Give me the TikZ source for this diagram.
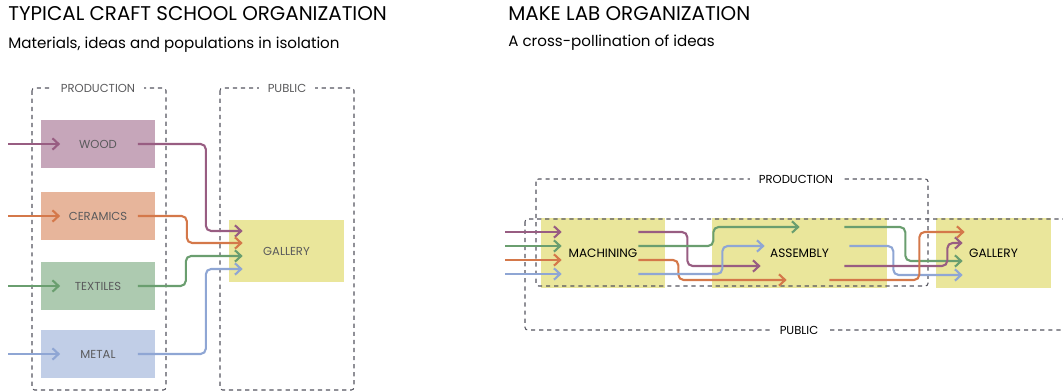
\documentclass[tikz,border=0pt]{standalone}
\usepackage{fontspec}
\setmainfont{Poppins}
\usetikzlibrary{calc,arrows.meta}
\definecolor{wood}{HTML}{985D82}
\definecolor{ceramics}{HTML}{D4784A}
\definecolor{textiles}{HTML}{6A9E6F}
\definecolor{metal}{HTML}{8FA6D4}
\definecolor{galfill}{HTML}{EAE69B}
\definecolor{zonegray}{HTML}{55555F}
\definecolor{labgray}{HTML}{5A5A5C}
\tikzset{zone/.style={draw=zonegray,line width=0.6pt,dash pattern=on 2.4pt off 2.2pt,rounded corners=1.5pt}}
\tikzset{zlabel/.style={fill=white,inner xsep=5pt,inner ysep=1pt,font=\fontsize{6.6}{7}\selectfont}}
\tikzset{matbox/.style={inner sep=0pt,minimum width=2.3cm,minimum height=0.96cm,text=labgray,font=\fontsize{6.6}{7}\selectfont}}
\tikzset{labbox/.style={fill=galfill,inner sep=0pt,minimum height=1.42cm,font=\fontsize{6.9}{7}\selectfont}}
\tikzset{flow/.style={line width=1.2pt,rounded corners=3pt,-{Straight Barb[length=3.5pt,width=6.5pt]}}}
\tikzset{ttl/.style={anchor=base west,inner sep=0pt,font=\fontsize{11.3}{13}\selectfont}}
\tikzset{subttl/.style={anchor=base west,inner sep=0pt,font=\fontsize{8.6}{10}\selectfont}}

\begin{document}
\begin{tikzpicture}[x=0.02cm,y=-0.02cm]
  \useasboundingbox (0,0) rectangle (1063,391);
  \clip (0,0) rectangle (1063,391);

  \node[ttl] (title1) at (8,21) {TYPICAL CRAFT SCHOOL ORGANIZATION};
  \node[subttl] (sub1) at (8,49) {Materials, ideas and populations in isolation};
  \node[ttl] (title2) at (508,21) {MAKE LAB ORGANIZATION};
  \node[subttl] (sub2) at (508,47) {A cross-pollination of ideas};

  % craft school
  \node[matbox,fill=galfill,minimum height=1.24cm] (gallery) at (286.5,251) {GALLERY};
  \foreach \n/\t/\y in {wood/WOOD/144,ceramics/CERAMICS/216,textiles/TEXTILES/286,metal/METAL/354}{
    \node[matbox,fill=\n!55] (\n) at (98,\y) {\t};
  }
  \draw[zone] (32,88) rectangle (166,390);
  \node[zlabel,text=labgray] (lprod) at (98,88) {PRODUCTION};
  \draw[zone] (220,88) rectangle (354,390);
  \node[zlabel,text=labgray] (lpub) at (287,88) {PUBLIC};
  \foreach \n/\y/\b/\d in {wood/144/68/-20,ceramics/216/49/-8,textiles/286/48/5,metal/354/68/18}{
    \coordinate (\n src) at (8,\y);
    \draw[flow,\n] (\n src) -- ($(\n.west)+(20,0)$);
    \draw[flow,\n] ($(\n.east)+(-18,0)$) -- ++(\b,0) |- ($(gallery.west)+(14,\d)$);
  }

  % make lab
  \node[labbox,minimum width=2.48cm] (machining) at (603,253) {MACHINING};
  \node[labbox,minimum width=3.5cm] (assembly) at (799.5,253) {ASSEMBLY};
  \node[labbox,minimum width=2.3cm] (gallery2) at (993.5,253) {GALLERY};
  \draw[zone] (536,179) rectangle (928,286);
  \node[zlabel] (rprod) at (796,179) {PRODUCTION};
  \draw[zone] (525,219) rectangle (1080,330);
  \node[zlabel] (rpub) at (799,330) {PUBLIC};
  \foreach \c/\d in {wood/-21,textiles/-7,ceramics/7,metal/21}{
    \coordinate (in\c) at (505,253+\d);
    \draw[flow,\c] (in\c) -- ($(machining.west)+(21,\d)$);
  }
  \foreach \c/\d/\b/\ex/\ey in {wood/-21/49/49/13,textiles/-7/75/88/-26,ceramics/7/40/75/27,metal/21/84/53/-7}{
    \draw[flow,\c] ($(machining.east)+(-27,\d)$) -- ++(\b,0) |- ($(assembly.west)+(\ex,\ey)$);
  }
  \foreach \c/\sx/\sy/\b/\ex/\ey in {textiles/-43/-26/61/27/8,metal/-38/-7/44/27/22,wood/-43/13/103/27/-10,ceramics/-58/27/90/29/-21}{
    \draw[flow,\c] ($(assembly.east)+(\sx,\sy)$) -- ++(\b,0) |- ($(gallery2.west)+(\ex,\ey)$);
  }
\end{tikzpicture}
\end{document}
